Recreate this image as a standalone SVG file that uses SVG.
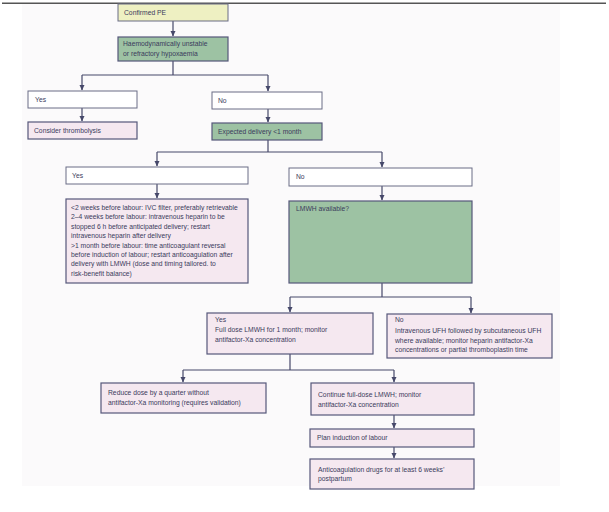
<svg xmlns="http://www.w3.org/2000/svg" width="609" height="512" viewBox="0 0 609 512">
<defs>
<marker id="ah" markerWidth="6" markerHeight="6" refX="5" refY="3" orient="auto" markerUnits="userSpaceOnUse">
<path d="M0,0.5 L5.5,3 L0,5.5 Z" fill="#46486a"/>
</marker>
<style>
.t{font-family:"Liberation Sans","Open Sans",sans-serif;font-size:6.75px;fill:#3b3b5c}
.pink{fill:#f5e8f0;stroke:#55577a;stroke-width:1.2}
.white{fill:#ffffff;stroke:#6a6c86;stroke-width:1}
.green{fill:#9dc2a3;stroke:#55577a;stroke-width:1.2}
.yellow{fill:#eef0c2;stroke:#6a6c86;stroke-width:1}
.c{fill:none;stroke:#46486a;stroke-width:1.2}
</style>
</defs>
<rect x="0" y="0" width="609" height="512" fill="#ffffff"/>
<rect x="22" y="4" width="538" height="482" fill="#fbfafb"/>
<line x1="2" y1="3.3" x2="606" y2="3.3" stroke="#555555" stroke-width="1.5"/>

<g id="connectors">
<path class="c" d="M173,21 V36" marker-end="url(#ah)"/>
<path class="c" d="M173,61 V75 M82,75 H268"/>
<path class="c" d="M82,75 V90" marker-end="url(#ah)"/>
<path class="c" d="M268,75 V91" marker-end="url(#ah)"/>
<path class="c" d="M82,108 V121" marker-end="url(#ah)"/>
<path class="c" d="M268,109 V122" marker-end="url(#ah)"/>
<path class="c" d="M268,140 V152 M157,152 H382"/>
<path class="c" d="M157,152 V166" marker-end="url(#ah)"/>
<path class="c" d="M382,152 V167" marker-end="url(#ah)"/>
<path class="c" d="M157,184 V198" marker-end="url(#ah)"/>
<path class="c" d="M382,186 V200" marker-end="url(#ah)"/>
<path class="c" d="M382,283 V297 M290,297 H471"/>
<path class="c" d="M290,297 V312" marker-end="url(#ah)"/>
<path class="c" d="M471,297 V313" marker-end="url(#ah)"/>
<path class="c" d="M290,354 V370 M183,370 H394"/>
<path class="c" d="M183,370 V382" marker-end="url(#ah)"/>
<path class="c" d="M394,370 V382" marker-end="url(#ah)"/>
<path class="c" d="M394,415 V428" marker-end="url(#ah)"/>
<path class="c" d="M394,447 V458" marker-end="url(#ah)"/>
</g>

<g id="confirmed-pe">
<rect class="yellow" x="118" y="4" width="110" height="17"/>
<text class="t" x="124" y="15">Confirmed PE</text>
</g>
<g id="haemodynamically">
<rect class="green" x="118" y="37" width="110" height="24"/>
<text class="t" x="123" y="46">Haemodynamically unstable</text>
<text class="t" x="123" y="56">or refractory hypoxaemia</text>
</g>
<g id="yes1">
<rect class="white" x="28" y="91" width="109" height="17"/>
<text class="t" x="35" y="101.5">Yes</text>
</g>
<g id="thrombolysis">
<rect class="pink" x="28" y="122" width="109" height="17"/>
<text class="t" x="34" y="133">Consider thrombolysis</text>
</g>
<g id="no1">
<rect class="white" x="212" y="92" width="110" height="17"/>
<text class="t" x="218" y="102.5">No</text>
</g>
<g id="expected-delivery">
<rect class="green" x="212" y="123" width="110" height="17"/>
<text class="t" x="218" y="134">Expected delivery &lt;1 month</text>
</g>
<g id="yes2">
<rect class="white" x="66" y="167" width="182" height="17"/>
<text class="t" x="72" y="177.5">Yes</text>
</g>
<g id="no2">
<rect class="white" x="289" y="168" width="183" height="18"/>
<text class="t" x="296" y="178.5">No</text>
</g>
<g id="labour-timing">
<rect class="pink" x="66" y="199" width="182" height="84"/>
<text class="t" x="71" y="209.5">&lt;2 weeks before labour: IVC filter, preferably retrievable</text>
<text class="t" x="71" y="219">2–4 weeks before labour: intravenous heparin to be</text>
<text class="t" x="71" y="228.5">stopped 6 h before anticipated delivery; restart</text>
<text class="t" x="71" y="238">intravenous heparin after delivery</text>
<text class="t" x="71" y="247.5">&gt;1 month before labour: time anticoagulant reversal</text>
<text class="t" x="71" y="257">before induction of labour; restart anticoagulation after</text>
<text class="t" x="71" y="266">delivery with LMWH (dose and timing tailored. to</text>
<text class="t" x="71" y="275.5">risk-benefit balance)</text>
</g>
<g id="lmwh-available">
<rect class="green" x="289" y="201" width="183" height="82"/>
<text class="t" x="296" y="211">LMWH available?</text>
</g>
<g id="yes3">
<rect class="pink" x="207" y="313" width="166" height="41"/>
<text class="t" x="215" y="321.5">Yes</text>
<text class="t" x="215" y="331.5">Full dose LMWH for 1 month; monitor</text>
<text class="t" x="215" y="341.5">antifactor-Xa concentration</text>
</g>
<g id="no3">
<rect class="pink" x="387" y="314" width="165" height="44"/>
<text class="t" x="395" y="322">No</text>
<text class="t" x="395" y="333">Intravenous UFH followed by subcutaneous UFH</text>
<text class="t" x="395" y="342.5">where available; monitor heparin antifactor-Xa</text>
<text class="t" x="395" y="352">concentrations or partial thromboplastin time</text>
</g>
<g id="reduce-dose">
<rect class="pink" x="101" y="383" width="165" height="30"/>
<text class="t" x="108" y="395">Reduce dose by a quarter without</text>
<text class="t" x="108" y="405">antifactor-Xa monitoring (requires validation)</text>
</g>
<g id="continue">
<rect class="pink" x="311" y="383" width="163" height="32"/>
<text class="t" x="318" y="397">Continue full-dose LMWH; monitor</text>
<text class="t" x="318" y="406.5">antifactor-Xa concentration</text>
</g>
<g id="plan-induction">
<rect class="pink" x="310" y="429" width="164" height="18"/>
<text class="t" x="317" y="440">Plan induction of labour</text>
</g>
<g id="anticoagulation">
<rect class="pink" x="310" y="459" width="164" height="30"/>
<text class="t" x="318" y="472">Anticoagulation drugs for at least 6 weeks’</text>
<text class="t" x="318" y="481">postpartum</text>
</g>
</svg>
